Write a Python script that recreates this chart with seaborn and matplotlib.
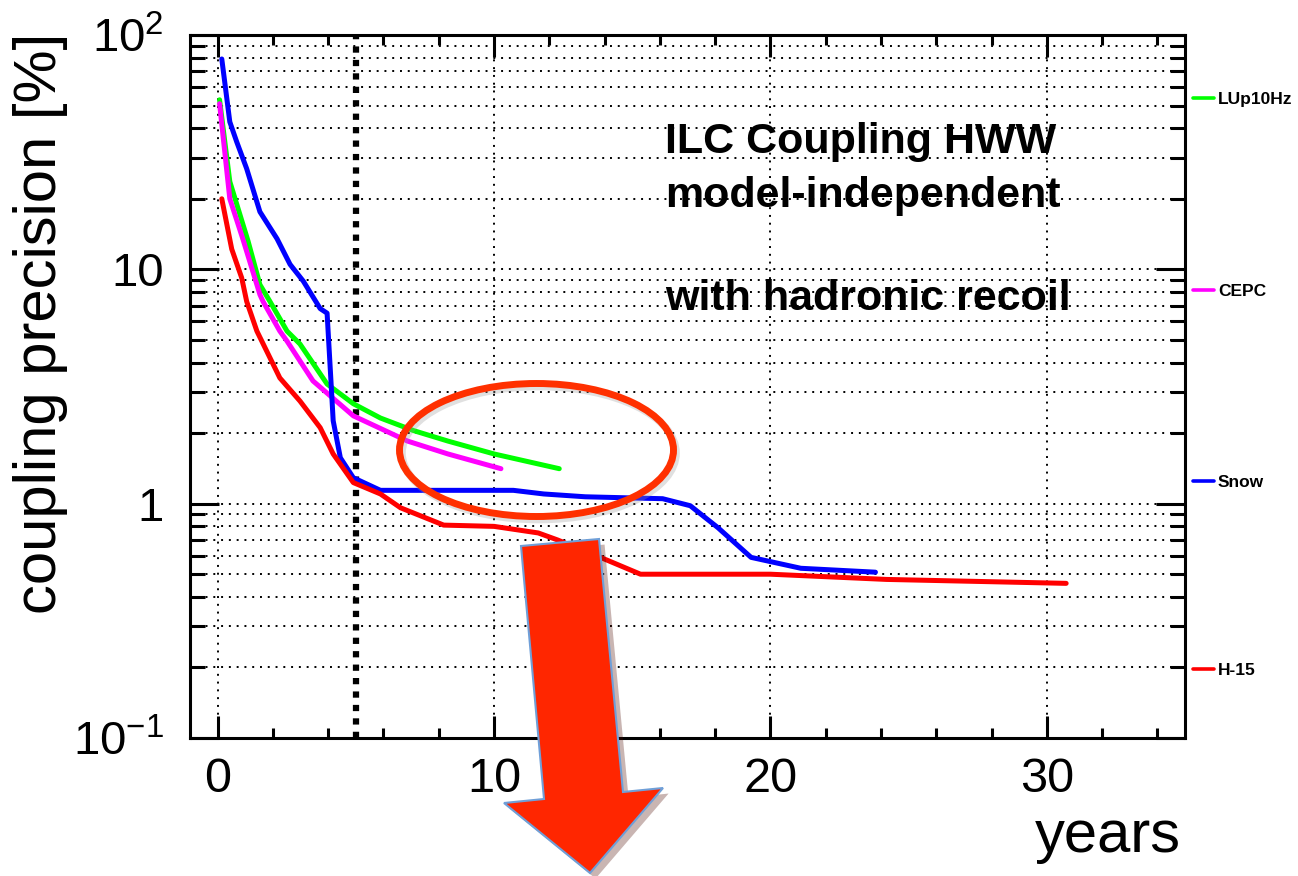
import numpy as np
import pandas as pd
import matplotlib
matplotlib.use("Agg")
import matplotlib.pyplot as plt
import matplotlib.ticker as mticker
import matplotlib.patheffects as pe
from matplotlib.patches import Ellipse, Polygon
from matplotlib.lines import Line2D
import seaborn as sns

# scenario curves (years, coupling precision in %)
lup_years = [0.07, 0.44, 1.1, 1.53, 1.89, 2.51, 2.98, 3.96, 4.91, 5.89, 7.09, 8.33, 10.0, 12.36]
lup_prec = [52.9, 23.7, 13.2, 8.6, 7.3, 5.45, 4.8, 3.24, 2.67, 2.32, 2.05, 1.85, 1.63, 1.41]

cepc_years = [0.07, 0.44, 0.91, 1.53, 1.64, 2.25, 2.51, 3.45, 4.91, 6.87, 8.33, 10.25]
cepc_prec = [50.9, 20.0, 13.5, 7.8, 7.3, 5.45, 4.94, 3.34, 2.37, 1.85, 1.63, 1.41]

snow_years = [0.15, 0.44, 0.69, 1.05, 1.53, 2.15, 2.62, 3.1, 3.71, 3.96, 4.12, 4.18, 4.44, 4.91,
              5.89, 10.7, 11.8, 13.3, 16.1, 17.1, 18.1, 19.3, 21.1, 23.8]
snow_prec = [79, 42.6, 35, 26.9, 17.6, 13.5, 10.5, 8.9, 6.8, 6.5, 3.03, 2.26, 1.57, 1.29,
             1.14, 1.14, 1.10, 1.07, 1.05, 0.98, 0.79, 0.59, 0.53, 0.51]

h15_years = [0.15, 0.51, 0.87, 1.05, 1.42, 2.25, 2.98, 3.71, 4.18, 4.91, 5.89, 6.62, 8.18,
             10.0, 11.6, 12.3, 14.0, 15.3, 20.0, 24.2, 30.7]
h15_prec = [20, 12.2, 9.2, 7.3, 5.45, 3.44, 2.74, 2.11, 1.63, 1.23, 1.10, 0.96, 0.81,
            0.80, 0.75, 0.70, 0.58, 0.50, 0.50, 0.475, 0.457]

labels = ["LUp10Hz", "CEPC", "Snow", "H-15"]
colors = ["#00ff00", "#ff00ff", "#0000ff", "#ff0000"]
ytick_vals = [0.1, 1, 10, 100]
ytick_labels = [r"$\mathregular{10^{-1}}$", "1", "10", r"$\mathregular{10^{2}}$"]

frames = []
for name, xs, ys in zip(labels, [lup_years, cepc_years, snow_years, h15_years],
                        [lup_prec, cepc_prec, snow_prec, h15_prec]):
    frames.append(pd.DataFrame({"years": xs, "precision": ys, "scenario": name}))
df = pd.concat(frames, ignore_index=True)

sns.set_style("ticks")
plt.rcParams["font.family"] = ["Liberation Sans", "DejaVu Sans"]
plt.rcParams["mathtext.fontset"] = "custom"
plt.rcParams["mathtext.rm"] = "Liberation Sans"
for key in ["text.color", "axes.labelcolor", "xtick.color", "ytick.color"]:
    plt.rcParams[key] = "black"

W, H = 1298, 876
fig = plt.figure(figsize=(W / 100, H / 100), dpi=100)
ax = fig.add_axes([190 / W, 1 - 738 / H, (1185 - 190) / W, (738 - 35) / H])

sns.lineplot(data=df, x="years", y="precision", hue="scenario", palette=dict(zip(labels, colors)),
             sort=False, estimator=None, linewidth=3.6, legend=False, ax=ax, zorder=3)
for ln in ax.lines:
    ln.set_solid_joinstyle("round")

ax.set_yscale("log")
ax.set_xlim(-1, 35)
ax.set_ylim(0.1, 100)
ax.set_xlabel("")
ax.set_ylabel("")

ax.xaxis.set_major_locator(mticker.MultipleLocator(10))
ax.xaxis.set_minor_locator(mticker.MultipleLocator(2))
ax.yaxis.set_major_locator(mticker.FixedLocator(ytick_vals))
ax.yaxis.set_major_formatter(mticker.FixedFormatter(ytick_labels))
ax.yaxis.set_minor_locator(mticker.LogLocator(subs=np.arange(2, 10)))
ax.yaxis.set_minor_formatter(mticker.NullFormatter())

ax.tick_params(which="both", direction="in", top=True, right=True, width=2.2, color="black",
               labelcolor="black")
ax.tick_params(axis="x", which="major", length=16, labelsize=35, pad=14)
ax.tick_params(axis="x", which="minor", length=7)
ax.tick_params(axis="y", which="major", length=21, labelsize=34, pad=19)
ax.tick_params(axis="y", which="minor", length=11)
for s in ax.spines.values():
    s.set_linewidth(2.2)
    s.set_color("black")

ax.grid(which="both", axis="y", color="black", linestyle=(0, (1, 3)), linewidth=1.4)
ax.grid(which="major", axis="x", color="black", linestyle=(0, (1, 3)), linewidth=1.4)
ax.axvline(5, color="black", linewidth=4.5, linestyle=(0, (1, 1.15)), zorder=2)

fig.text(41 / W, 1 - 33 / H, "coupling precision [%]", rotation=90, ha="center", va="top",
         fontsize=43, color="black")
fig.text(1181 / W, 1 - 864 / H, "years", ha="right", va="bottom", fontsize=43, color="black")

title_lines = ["ILC Coupling HWW", "model-independent", "with hadronic recoil"]
for line, ypx in zip(title_lines, [153, 207, 310]):
    fig.text(665 / W, 1 - ypx / H, line, ha="left", va="baseline", fontsize=31, weight="bold",
             color="black")

# legend entries stacked on the right margin
for name, col, ypx in zip(labels, colors, [98, 290, 481, 669]):
    fig.add_artist(Line2D([1193 / W, 1214 / W], [1 - ypx / H] * 2, transform=fig.transFigure,
                          color=col, linewidth=2.6))
    fig.text(1218 / W, 1 - (ypx + 6) / H, name, ha="left", va="baseline", fontsize=12.5,
             weight="bold", color="black")

# highlight ellipse with a soft shadow
fig.add_artist(Ellipse((539 / W, 1 - 453 / H), 274 / W, 133 / H, transform=fig.transFigure,
                       fill=False, edgecolor="0.6", linewidth=5.5, alpha=0.3, zorder=5))
fig.add_artist(Ellipse((536.5 / W, 1 - 450 / H), 274 / W, 133 / H, transform=fig.transFigure,
                       fill=False, edgecolor="#ff3000", linewidth=5, zorder=6))

# big arrow pointing down
arrow_px = [(521, 546), (599, 539), (623, 792), (663, 788), (590, 873), (504, 803), (544, 799)]
arrow = Polygon([(x / W, 1 - y / H) for x, y in arrow_px], closed=True, transform=fig.transFigure,
                facecolor="#ff2600", edgecolor="#6f9fd8", linewidth=1.5, zorder=7,
                path_effects=[pe.SimplePatchShadow(offset=(4, -4), alpha=0.3), pe.Normal()])
fig.add_artist(arrow)

fig.savefig("out.png", dpi=100)
